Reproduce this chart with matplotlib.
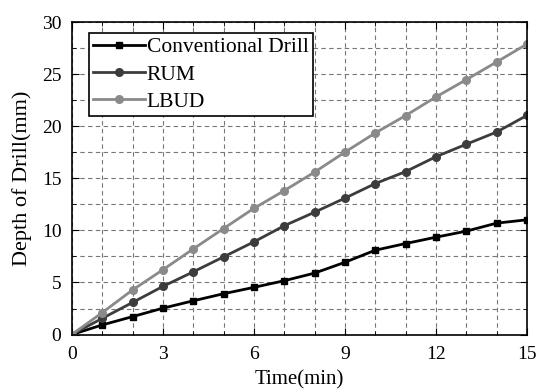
import numpy as np
import matplotlib
matplotlib.use('Agg')
import matplotlib.pyplot as plt
from matplotlib.ticker import MultipleLocator

time_min = np.arange(0, 16)
conventional = [0, 0.92, 1.72, 2.53, 3.24, 3.92, 4.53, 5.17, 5.9, 6.94, 8.1, 8.74, 9.35, 9.93, 10.7, 11.02]
rum = [0, 1.55, 3.08, 4.62, 6.02, 7.46, 8.9, 10.45, 11.75, 13.1, 14.5, 15.65, 17.08, 18.28, 19.45, 21.05]
lbud = [0, 2.1, 4.28, 6.22, 8.22, 10.18, 12.12, 13.82, 15.6, 17.52, 19.36, 21.03, 22.82, 24.48, 26.18, 27.9]

plt.rcParams['font.family'] = ['Liberation Serif', 'DejaVu Serif']

fig = plt.figure(figsize=(5.4, 3.89), dpi=100)
ax = fig.add_axes([0.133, 0.140, 0.843, 0.803])

ax.plot(time_min, conventional, color='black', lw=2, marker='s', ms=5, label='Conventional Drill')
ax.plot(time_min, rum, color='#3c3c3c', lw=2, marker='o', ms=5.5, label='RUM')
ax.plot(time_min, lbud, color='#8a8a8a', lw=2, marker='o', ms=5.5, label='LBUD')

ax.set_xlim(0, 15)
ax.set_ylim(0, 30)
ax.xaxis.set_major_locator(MultipleLocator(3))
ax.xaxis.set_minor_locator(MultipleLocator(1))
ax.yaxis.set_major_locator(MultipleLocator(5))
ax.yaxis.set_minor_locator(MultipleLocator(2.5))
ax.grid(True, which='both', color='#777777', ls=(0, (4, 3)), lw=0.8)
ax.tick_params(which='both', direction='in', top=True, right=True, labelsize=14)
ax.tick_params(which='major', length=5)
ax.tick_params(which='minor', length=3)
ax.tick_params(axis='y', pad=7.5)
ax.tick_params(axis='x', pad=8.5)
for sp in ax.spines.values():
    sp.set_linewidth(1.2)

ax.set_xlabel('Time(min)', fontsize=15, labelpad=5)
ax.set_ylabel('Depth of Drill(mm)', fontsize=16, labelpad=7)

leg = ax.legend(loc='upper left', bbox_to_anchor=(0.037, 0.965), fontsize=15.5, frameon=True,
                fancybox=False, edgecolor='black', framealpha=1, borderpad=0.2,
                labelspacing=0.33, handlelength=2.4, handletextpad=0.1, borderaxespad=0)
leg.get_frame().set_linewidth(1.2)

fig.savefig('out.png', dpi=100)
